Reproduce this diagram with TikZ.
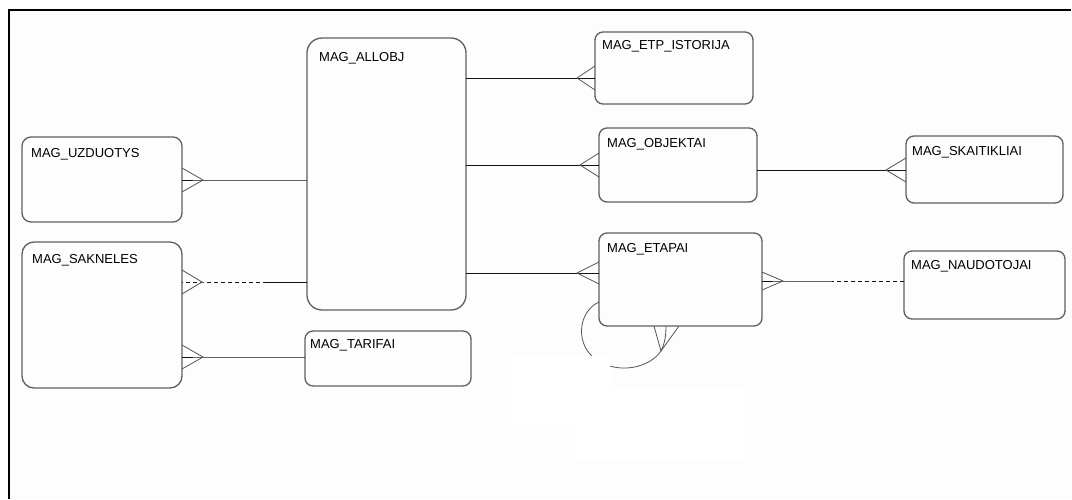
\documentclass[tikz,border=0pt]{standalone}
\usepackage{fontspec}
\setmainfont{Liberation Sans}
\usetikzlibrary{calc}
\definecolor{bg}{RGB}{253,253,253}
\definecolor{boxc}{RGB}{95,95,95}
\definecolor{linec}{RGB}{20,20,20}
\definecolor{prongc}{RGB}{85,85,85}
\tikzset{
  ent/.style={draw=boxc, line width=1.3pt, rounded corners=8pt, anchor=north west,
              inner sep=0pt, outer sep=0pt, fill=bg},
  lbl/.style={anchor=base west, inner sep=0pt, text=black, font=\fontsize{13}{15}\selectfont},
  rel/.style={draw=linec, line width=0.8pt},
  reldash/.style={rel, dash pattern=on 4pt off 3pt},
  prong/.style={draw=prongc, line width=0.8pt},
}
\begin{document}
\begin{tikzpicture}[x=1pt,y=-1pt]
\useasboundingbox (0,0) rectangle (1072,499);
\fill[white] (0,0) rectangle (1072,499);
\fill[bg] (9,10) rectangle (1072,499);
% border
\draw[black, line width=2pt] (9,499) -- (9,10) -- (1071,10);

% entities
\node[ent, minimum width=160pt, minimum height=85pt, rounded corners=9pt] (uzd) at (22,137) {};
\node[ent, minimum width=160pt, minimum height=146pt, rounded corners=12pt] (sak) at (22,242) {};
\node[ent, minimum width=159pt, minimum height=272pt, rounded corners=15pt] (all) at (307,38) {};
\node[ent, minimum width=166pt, minimum height=55pt] (tar) at (305,331) {};
\node[ent, minimum width=158pt, minimum height=72pt] (etp) at (595,32) {};
\node[ent, minimum width=158pt, minimum height=74pt] (obj) at (599,128) {};
\node[ent, minimum width=157pt, minimum height=67pt] (ska) at (906,136) {};
\node[ent, minimum width=163pt, minimum height=93pt] (eta) at (599,233) {};
\node[ent, minimum width=161pt, minimum height=68pt] (nau) at (904,251) {};

% labels
\node[lbl] (uzdT) at ([xshift=9pt,yshift=-20pt]uzd.north west) {MAG\_UZDUOTYS};
\node[lbl] (sakT) at ([xshift=10pt,yshift=-21pt]sak.north west) {MAG\_SAKNELES};
\node[lbl] (allT) at ([xshift=12pt,yshift=-23pt]all.north west) {MAG\_ALLOBJ};
\node[lbl] (tarT) at ([xshift=5pt,yshift=-17pt]tar.north west) {MAG\_TARIFAI};
\node[lbl] (etpT) at ([xshift=7pt,yshift=-17pt]etp.north west) {MAG\_ETP\_ISTORIJA};
\node[lbl] (objT) at ([xshift=8pt,yshift=-19pt]obj.north west) {MAG\_OBJEKTAI};
\node[lbl] (skaT) at ([xshift=6pt,yshift=-19pt]ska.north west) {MAG\_SKAITIKLIAI};
\node[lbl] (etaT) at ([xshift=8pt,yshift=-19pt]eta.north west) {MAG\_ETAPAI};
\node[lbl] (nauT) at ([xshift=7pt,yshift=-18pt]nau.north west) {MAG\_NAUDOTOJAI};

% connector heights
\coordinate (h1) at (0,180);
\coordinate (h2) at (0,282);
\coordinate (h3) at (0,357);
\coordinate (h4) at (0,78);
\coordinate (h5) at (0,165);
\coordinate (h6) at (0,273);
\coordinate (h7) at (0,170);
\coordinate (h8) at (0,281);

% UZDUOTYS -- ALLOBJ
\coordinate (a1) at ($(uzd.east |- h1)+(21,0)$);
\draw[rel] (all.west |- h1) -- (a1) -- (uzd.east |- h1);
\draw[prong] ($(uzd.east |- h1)+(0,-12)$) -- (a1) -- ($(uzd.east |- h1)+(0,12)$);

% SAKNELES -- ALLOBJ (dashed half)
\coordinate (a2) at ($(sak.east |- h2)+(20,0)$);
\coordinate (m2) at (267,282);
\draw[rel] (all.west |- h2) -- (m2);
\draw[reldash] (m2) -- (a2) -- (sak.east |- h2);
\draw[prong] ($(sak.east |- h2)+(0,-12)$) -- (a2) -- ($(sak.east |- h2)+(0,12)$);

% SAKNELES -- TARIFAI
\coordinate (a3) at ($(sak.east |- h3)+(21,0)$);
\draw[rel] (tar.west |- h3) -- (a3) -- (sak.east |- h3);
\draw[prong] ($(sak.east |- h3)+(0,-12)$) -- (a3) -- ($(sak.east |- h3)+(0,12)$);

% ALLOBJ -- ETP_ISTORIJA
\coordinate (a4) at ($(etp.west |- h4)+(-18,0)$);
\draw[rel] (all.east |- h4) -- (etp.west |- h4);
\draw[prong] ($(etp.west |- h4)+(0,-12)$) -- (a4) -- ($(etp.west |- h4)+(0,12)$);

% ALLOBJ -- OBJEKTAI
\coordinate (a5) at ($(obj.west |- h5)+(-19,0)$);
\draw[rel] (all.east |- h5) -- (obj.west |- h5);
\draw[prong] ($(obj.west |- h5)+(0,-12)$) -- (a5) -- ($(obj.west |- h5)+(0,12)$);

% ALLOBJ -- ETAPAI
\coordinate (a6) at ($(eta.west |- h6)+(-22,0)$);
\draw[rel] (all.east |- h6) -- (eta.west |- h6);
\draw[prong] ($(eta.west |- h6)+(0,-11)$) -- (a6) -- ($(eta.west |- h6)+(0,11)$);

% OBJEKTAI -- SKAITIKLIAI
\coordinate (a7) at ($(ska.west |- h7)+(-20,0)$);
\draw[rel] (obj.east |- h7) -- (ska.west |- h7);
\draw[prong] ($(ska.west |- h7)+(0,-12)$) -- (a7) -- ($(ska.west |- h7)+(0,12)$);

% ETAPAI -- NAUDOTOJAI
\coordinate (a8) at ($(eta.east |- h8)+(21,0)$);
\coordinate (m8) at (832,281);
\draw[reldash] (nau.west |- h8) -- (m8);
\draw[rel] (m8) -- (a8) -- (eta.east |- h8);
\draw[prong] ($(eta.east |- h8)+(0,-9)$) -- (a8) -- ($(eta.east |- h8)+(0,9)$);

% ETAPAI self loop
\coordinate (ls) at (eta.west |- 0,302);
\coordinate (la) at (661,351);
\draw[rel, draw=prongc] (ls) .. controls (577,312) and (574,348) .. (600,362)
   .. controls (622,374) and (650,367) .. (la);
\draw[rel, draw=prongc] (la) .. controls (665,343) and (666,335) .. (666,326);
\draw[prong] (654,326) -- (la) -- (679,326);

% white patch of the background
\fill[white] (513,356) -- (610,356) -- (610,388) -- (743,388) -- (743,461)
   -- (575,461) -- (575,430) -- (513,430) -- cycle;
\end{tikzpicture}
\end{document}
